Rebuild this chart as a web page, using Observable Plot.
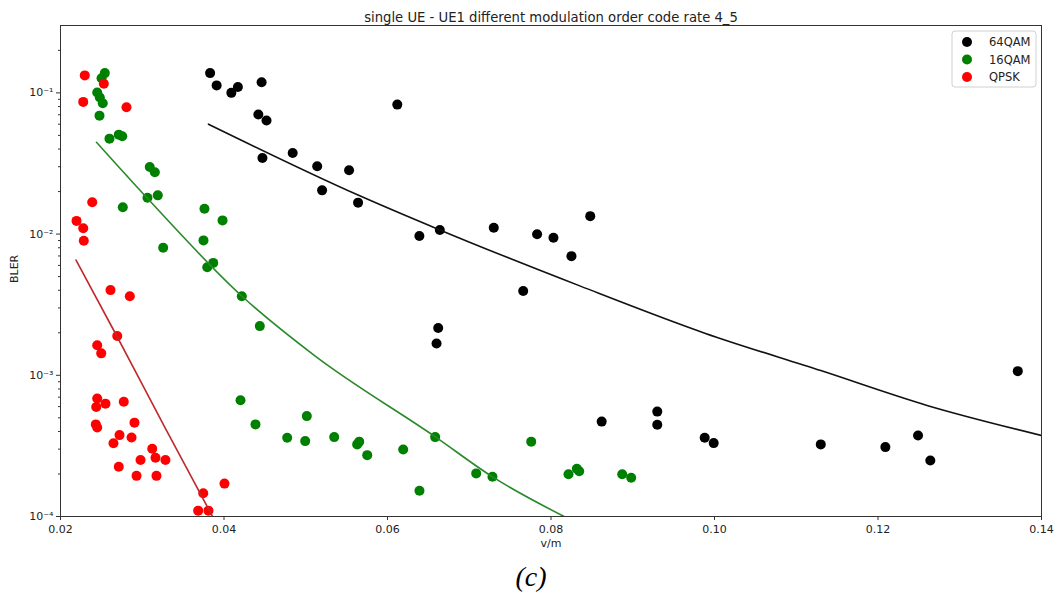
<!DOCTYPE html>
<html>
<head>
<meta charset="utf-8">
<script src="https://cdn.jsdelivr.net/npm/d3@7"></script>
<script src="https://cdn.jsdelivr.net/npm/@observablehq/plot@0.6"></script>
<style>
  html, body { margin: 0; padding: 0; background: white; }
  #chart { width: 1058px; height: 603px; }
</style>
</head>
<body>
<div id="chart"></div>
<script>
// ---------- data ----------
const title = "single UE - UE1 different modulation order code rate 4_5";
const seriesNames = ["64QAM", "16QAM", "QPSK"];
const seriesColors = ["#000000", "#008000", "#ff0000"];
const fitColors = ["#111111", "#2a8a2a", "#c0282a"];

const x64 = [0.0383,0.0391,0.0409,0.0417,0.0446,0.0442,0.0452,0.0447,0.0484,0.0514,0.0520,0.0553,0.0564,0.0612,0.0639,0.0664,0.0662,0.0660,0.0730,0.0766,0.0783,0.0803,0.0825,0.0848,0.0862,0.0930,0.0930,0.0988,0.0999,0.1130,0.1209,0.1249,0.1264,0.1371];
const y64 = [0.138,0.113,0.100,0.110,0.119,0.0702,0.0637,0.0346,0.0375,0.0302,0.0204,0.0283,0.0167,0.0826,0.00969,0.0107,0.00216,0.00168,0.0111,0.00395,0.00996,0.00942,0.00698,0.0134,0.00047,0.000553,0.000447,0.000361,0.000331,0.000324,0.000310,0.000375,0.000249,0.00107];

const x16 = [0.02542,0.02502,0.02449,0.02481,0.02517,0.02477,0.02599,0.02713,0.02755,0.03092,0.03154,0.03064,0.03190,0.02762,0.03761,0.03982,0.03749,0.03256,0.03795,0.03868,0.04218,0.04438,0.04202,0.04385,0.05013,0.04773,0.04993,0.05348,0.05629,0.05654,0.05752,0.06192,0.06391,0.06583,0.07085,0.07284,0.07758,0.08214,0.08316,0.08345,0.08871,0.08981];
const y16 = [0.138,0.127,0.1005,0.0927,0.0845,0.0690,0.0474,0.0506,0.0493,0.0299,0.0274,0.0181,0.0188,0.0155,0.0151,0.0125,0.00902,0.00800,0.00583,0.00625,0.00363,0.00223,0.000665,0.000449,0.000514,0.000361,0.000342,0.000365,0.000324,0.000339,0.000272,0.000298,0.000152,0.000365,0.000202,0.000191,0.000339,0.000199,0.000218,0.000209,0.000199,0.000188];

const xQ = [0.02297,0.02530,0.02278,0.02807,0.02388,0.02196,0.02278,0.02285,0.02612,0.02848,0.02694,0.02449,0.02498,0.02449,0.02437,0.02550,0.02774,0.02432,0.02449,0.02905,0.02722,0.02869,0.02648,0.03122,0.03162,0.02979,0.03284,0.02713,0.02930,0.03174,0.04006,0.03746,0.03684,0.03810];
const yQ = [0.133,0.116,0.0863,0.0792,0.0168,0.0124,0.0110,0.00896,0.00401,0.00363,0.00190,0.00163,0.00143,0.000684,0.000596,0.000630,0.000650,0.000449,0.000427,0.000462,0.000377,0.000363,0.000330,0.000302,0.000261,0.000251,0.000251,0.000225,0.000194,0.000194,0.000171,0.000146,0.000110,0.000110];

// fitted curves
const fit64x = [0.0381,0.0564,0.0664,0.0836,0.0989,0.1130,0.1260,0.1400];
const fit64y = [0.0600,0.0189,0.0107,0.00428,0.00198,0.00108,0.000612,0.000375];
const fit16x = [0.0244,0.0306,0.0422,0.0510,0.0659,0.0729,0.0816];
const fit16y = [0.0447,0.0180,0.00363,0.00139,0.000365,0.000190,0.000100];
const fitQx = [0.0219,0.0269,0.0327,0.0386];
const fitQy = [0.00655,0.00189,0.000435,0.000100];

const xTicks = [0.02,0.04,0.06,0.08,0.10,0.12,0.14];
const yTicks = [1e-4,1e-3,1e-2,1e-1];
const yTickLabels = ["10⁻⁴","10⁻³","10⁻²","10⁻¹"];

// ---------- build tables ----------
const pts = [];
[[x64,y64],[x16,y16],[xQ,yQ]].forEach(([xs,ys],i) => xs.forEach((v,j) => pts.push({x:v, y:ys[j], s:seriesNames[i]})));
const fits = [];
[[fit64x,fit64y],[fit16x,fit16y],[fitQx,fitQy]].forEach(([xs,ys],i) => xs.forEach((v,j) => fits.push({x:v, y:ys[j], s:seriesNames[i]})));

const minorTicks = [];
for (let e = -4; e < 0; e++) for (let m = 2; m <= 9; m++) {
  const v = m * Math.pow(10, e);
  if (v <= 0.3) minorTicks.push(v);
}

const font = "DejaVu Sans, sans-serif";
const chart = Plot.plot({
  width: 1058, height: 603,
  marginLeft: 60, marginRight: 17, marginTop: 25, marginBottom: 87,
  style: {fontFamily: font, fontSize: "11px", background: "white", color: "#222"},
  x: {domain: [0.02, 0.14]},
  y: {type: "log", domain: [1e-4, 0.3]},
  marks: [
    Plot.axisX({ticks: xTicks, tickFormat: d3.format(".2f"), tickSize: 4, tickPadding: 5, label: null, stroke: "#333"}),
    Plot.axisY({ticks: yTicks, tickFormat: (d) => yTickLabels[yTicks.indexOf(d)], tickSize: 4, tickPadding: 3, label: null, stroke: "#333"}),
    Plot.axisY({ticks: minorTicks, tickFormat: () => "", tickSize: 2, label: null, stroke: "#333"}),
    Plot.dot(pts, {x: "x", y: "y", fill: (d) => seriesColors[seriesNames.indexOf(d.s)], r: 5, stroke: null}),
    Plot.line(fits, {x: "x", y: "y", z: "s", stroke: (d) => fitColors[seriesNames.indexOf(d.s)], strokeWidth: 1.6, curve: "monotone-x", clip: true}),
    Plot.frame({stroke: "#333"}),
    Plot.text([title], {frameAnchor: "top", dy: -13, fontSize: 13.2, fill: "#222"}),
    Plot.text(["v/m"], {frameAnchor: "bottom", dy: 30, fontSize: 11, fill: "#222"}),
    Plot.text(["(c)"], {frameAnchor: "bottom", dx: -20, dy: 69, fontSize: 28, fontStyle: "italic", fontFamily: "Liberation Serif, serif", fill: "#000"}),
    Plot.text(["BLER"], {frameAnchor: "left", dx: -46, dy: 12, rotate: -90, fontSize: 11, fill: "#222"})
  ]
});
document.getElementById("chart").appendChild(chart);

// legend (matplotlib style, upper right)
const svg = d3.select(chart.tagName.toLowerCase() === "svg" ? chart : chart.querySelector("svg"));
const lg = svg.append("g").attr("font-family", font).attr("font-size", 11.5).attr("text-anchor", "start");
lg.append("rect").attr("x", 952).attr("y", 31).attr("width", 84).attr("height", 56).attr("rx", 3)
  .attr("fill", "white").attr("fill-opacity", 0.85).attr("stroke", "#d0d0d0");
seriesNames.forEach((n, i) => {
  lg.append("circle").attr("cx", 967).attr("cy", 42 + i * 17.5).attr("r", 5).attr("fill", seriesColors[i]);
  lg.append("text").attr("x", 989).attr("y", 42 + i * 17.5).attr("dy", "0.35em").attr("fill", "#222").attr("text-anchor", "start").text(n);
});
</script>
</body>
</html>
